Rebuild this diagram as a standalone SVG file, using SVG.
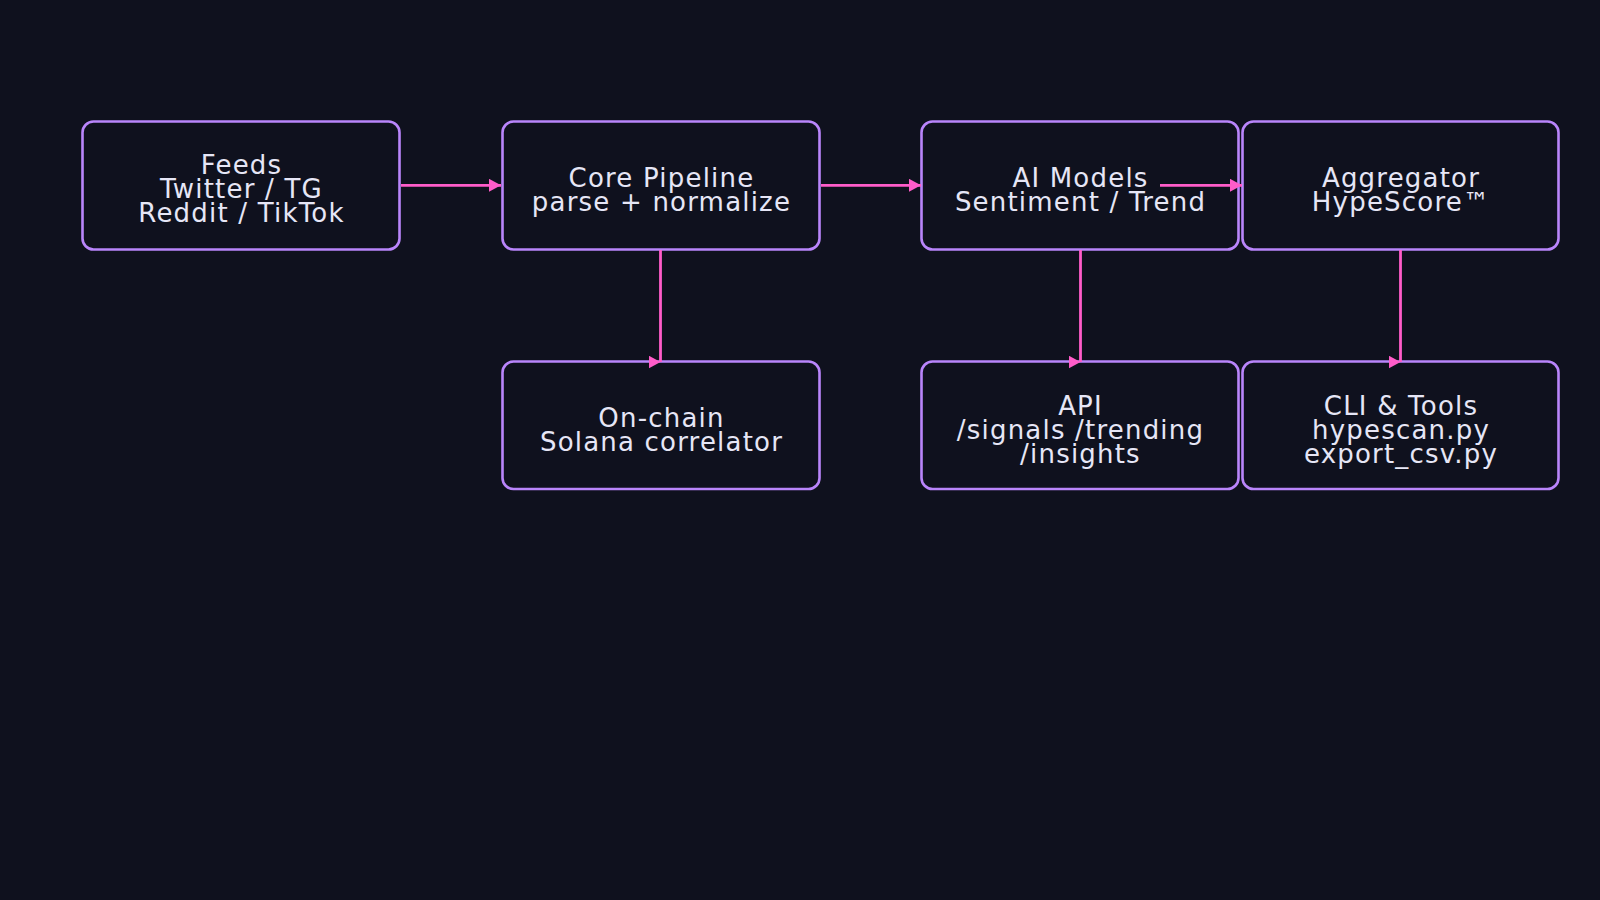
<svg xmlns="http://www.w3.org/2000/svg" width="1600" height="900" viewBox="0 0 1600 900">
<defs>
<style>
.bg{fill:#0f111e}
.node rect{fill:#0f111e;stroke:#b985fb;stroke-width:2.6}
.node text{font-family:"DejaVu Sans",sans-serif;font-size:26px;letter-spacing:1.2px;fill:#e6e6f6;text-anchor:middle}
.edge{stroke:#ff5cc9;stroke-width:2.8;fill:none}
</style>
<marker id="arr" viewBox="0 0 12 13" refX="12" refY="6.5" markerWidth="12" markerHeight="13" markerUnits="userSpaceOnUse" orient="0">
<path d="M0,0 L12,6.5 L0,13 Z" fill="#ff5cc9"/>
</marker>
</defs>
<rect class="bg" x="0" y="0" width="1600" height="900"/>
<g id="feeds" class="node">
<rect x="82.5" y="121.5" width="317" height="128" rx="11"/>
<text x="241.5" y="174">Feeds</text>
<text x="241.5" y="198.3">Twitter / TG</text>
<text x="241.5" y="222.3">Reddit / TikTok</text>
</g>
<g id="core" class="node">
<rect x="502.5" y="121.5" width="317" height="128" rx="11"/>
<text x="661.5" y="186.7">Core Pipeline</text>
<text x="661.5" y="210.7">parse + normalize</text>
</g>
<g id="ai" class="node">
<rect x="921.5" y="121.5" width="317" height="128" rx="11"/>
<text x="1080.5" y="186.7">AI Models</text>
<text x="1080.5" y="210.7">Sentiment / Trend</text>
</g>
<g id="aggregator" class="node">
<rect x="1242.5" y="121.5" width="316" height="128" rx="11"/>
<text x="1401" y="186.7">Aggregator</text>
<text x="1401" y="210.7">HypeScore™</text>
</g>
<g id="onchain" class="node">
<rect x="502.5" y="361.5" width="317" height="127.5" rx="11"/>
<text x="661.5" y="426.7">On-chain</text>
<text x="661.5" y="450.7">Solana correlator</text>
</g>
<g id="api" class="node">
<rect x="921.5" y="361.5" width="317" height="127.5" rx="11"/>
<text x="1080.5" y="415">API</text>
<text x="1080.5" y="439">/signals /trending</text>
<text x="1080.5" y="462.7">/insights</text>
</g>
<g id="cli" class="node">
<rect x="1242.5" y="361.5" width="316" height="127.5" rx="11"/>
<text x="1401" y="415">CLI &amp; Tools</text>
<text x="1401" y="439">hypescan.py</text>
<text x="1401" y="462.7">export_csv.py</text>
</g>
<g id="connectors">
<line class="edge" x1="401" y1="185.3" x2="501" y2="185.3" marker-end="url(#arr)"/>
<line class="edge" x1="821" y1="185.3" x2="921" y2="185.3" marker-end="url(#arr)"/>
<line class="edge" x1="1160" y1="185.3" x2="1242" y2="185.3" marker-end="url(#arr)"/>
<line class="edge" x1="660.5" y1="250" x2="660.5" y2="362" marker-end="url(#arr)"/>
<line class="edge" x1="1080.5" y1="250" x2="1080.5" y2="362" marker-end="url(#arr)"/>
<line class="edge" x1="1400.5" y1="250" x2="1400.5" y2="362" marker-end="url(#arr)"/>
</g>
</svg>
